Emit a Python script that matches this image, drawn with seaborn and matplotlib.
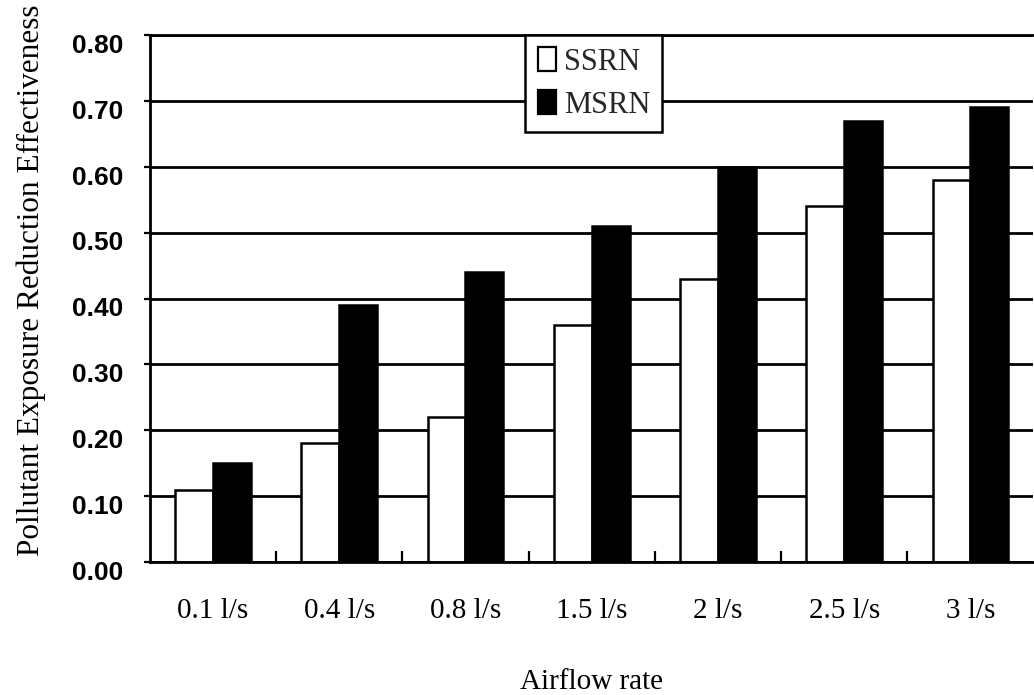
import matplotlib
matplotlib.use("Agg")
import matplotlib.pyplot as plt
import matplotlib.transforms as mtransforms
import seaborn as sns
import pandas as pd
import numpy as np

categories = ["0.1 l/s", "0.4 l/s", "0.8 l/s", "1.5 l/s", "2 l/s", "2.5 l/s", "3 l/s"]
ssrn = [0.11, 0.18, 0.22, 0.36, 0.43, 0.54, 0.58]
msrn = [0.15, 0.39, 0.44, 0.51, 0.60, 0.67, 0.69]
series = ["SSRN", "MSRN"]
yticks = [0.0, 0.1, 0.2, 0.3, 0.4, 0.5, 0.6, 0.7, 0.8]

df = pd.DataFrame({
    "Airflow rate": categories * 2,
    "value": ssrn + msrn,
    "series": [series[0]] * len(categories) + [series[1]] * len(categories),
})

sns.set_theme(style="white")
plt.rcParams["font.family"] = ["Liberation Serif", "DejaVu Serif"]

fig = plt.figure(figsize=(10.34, 6.95), dpi=100)
ax = fig.add_axes([0.145, 0.1914, 0.8545, 0.7582])

sns.barplot(data=df, x="Airflow rate", y="value", hue="series", order=categories,
            hue_order=series, palette={"SSRN": "white", "MSRN": "black"},
            edgecolor="black", linewidth=1.8, width=0.6, saturation=1, ax=ax,
            errorbar=None)

ax.set_axisbelow(True)
ax.set_ylim(0, 0.8)
ax.set_xlim(-0.5, len(categories) - 0.5)
ax.set_yticks(yticks)
ax.set_yticklabels([f"{v:.2f}" for v in yticks], family="Liberation Sans",
                   fontweight="bold", fontsize=19)
ax.yaxis.grid(True, color="black", linewidth=2.0)
ax.xaxis.grid(False)

for s in ["left", "bottom", "top"]:
    ax.spines[s].set_visible(True)
    ax.spines[s].set_color("black")
    ax.spines[s].set_linewidth(2.0)
ax.spines["right"].set_visible(False)

ax.tick_params(axis="y", which="major", direction="out", length=4, width=1.6,
               pad=15, colors="black", left=True)
ax.tick_params(axis="x", which="major", length=0, pad=26, labelsize=21,
               colors="black")
ax.set_xticks(np.arange(0.5, len(categories) - 1, 1.0), minor=True)
ax.tick_params(axis="x", which="minor", direction="in", length=8, width=1.6,
               bottom=True, colors="black")

# scanned original: y tick labels sit a little below their gridlines
offset = mtransforms.ScaledTranslation(0, -6 / 72, fig.dpi_scale_trans)
for t in ax.yaxis.get_major_ticks():
    t.label1.set_transform(t.label1.get_transform() + offset)

ax.set_xlabel("Airflow rate", fontsize=21, labelpad=32, color="black")
ax.set_ylabel("Pollutant Exposure Reduction Effectiveness", fontsize=22.5,
              color="black")
ax.yaxis.set_label_coords(-0.118, 0.535)

leg = ax.legend(loc="upper left", bbox_to_anchor=(0.425, 1.0), borderaxespad=0,
                fancybox=False, framealpha=1, edgecolor="black", fontsize=22,
                handlelength=0.6, handleheight=0.8, handletextpad=0.25,
                labelspacing=0.45, borderpad=0.4, title=None)
leg.get_frame().set_linewidth(1.8)
for h in leg.legend_handles:
    h.set_edgecolor("black")
    h.set_linewidth(1.6)

fig.savefig("out.png", dpi=100, facecolor="white")
